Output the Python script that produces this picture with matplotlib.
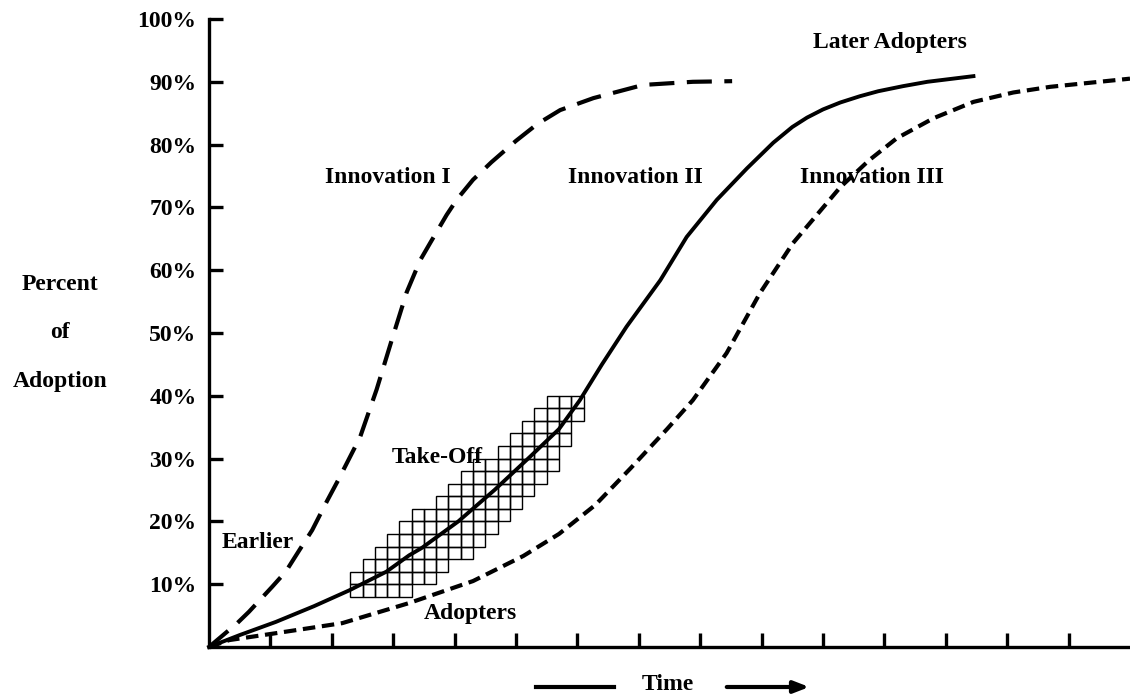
import numpy as np
import matplotlib
matplotlib.use("Agg")
import matplotlib.pyplot as plt
from matplotlib.patches import Rectangle

plt.rcParams['font.family'] = ['Liberation Serif', 'DejaVu Serif']
plt.rcParams['font.weight'] = 'bold'

# curves: time in tick units, adoption in percent
inno1_t = [0, 0.46, 0.65, 1.03, 1.25, 1.47, 1.68, 1.92, 2.1, 2.46, 2.73, 2.98, 3.22, 3.44, 3.6, 3.87,
           4.04, 4.3, 4.6, 5.0, 5.35, 5.72, 6.26, 7.07, 7.88, 8.52]
inno1_y = [0, 3.8, 5.6, 9.6, 12.0, 15.4, 18.6, 23.2, 26.5, 33.4, 41.0, 49.0, 56.5, 61.6, 64.3, 68.8,
           71.3, 74.4, 77.2, 80.6, 83.3, 85.5, 87.4, 89.5, 90.0, 90.1]

inno2_t = [0, 0.5, 1.09, 1.71, 2.28, 2.89, 3.26, 3.47, 4.06, 4.65, 5.24, 5.7, 6.04, 6.4, 6.8, 7.35,
           7.78, 8.27, 8.76, 9.19, 9.5, 9.74, 10.0, 10.28, 10.6, 10.9, 11.3, 11.7, 12.45]
inno2_y = [0, 1.9, 4.0, 6.5, 9.0, 12.0, 14.6, 15.8, 20.0, 25.0, 30.4, 34.7, 39.3, 45.0, 51.0, 58.4,
           65.3, 71.2, 76.2, 80.3, 82.8, 84.3, 85.6, 86.7, 87.7, 88.5, 89.3, 90.0, 90.9]

inno3_t = [0, 0.33, 1.09, 2.17, 3.26, 4.3, 5.12, 5.7, 6.29, 6.87, 7.46, 7.88, 8.43, 8.97, 9.51, 10.28,
           10.75, 11.2, 11.8, 12.45, 13.1, 13.7, 15.0]
inno3_y = [0, 1.1, 2.2, 3.8, 7.0, 10.5, 14.5, 18.0, 22.6, 28.5, 34.7, 39.3, 46.8, 56.3, 64.3, 73.2,
           77.5, 81.0, 84.2, 86.8, 88.3, 89.2, 90.5]

pct_ticks = [10, 20, 30, 40, 50, 60, 70, 80, 90, 100]
pct_labels = ['10%', '20%', '30%', '40%', '50%', '60%', '70%', '80%', '90%', '100%']
time_ticks = list(range(1, 15))

# take-off zone (hatched cells around innovation II)
takeoff_start = 2.3
takeoff_end = 6.0

W, H = 1130, 697
fig = plt.figure(figsize=(W / 100, H / 100), dpi=100)
ax = fig.add_axes([209 / W, 1 - 647 / H, (W - 209) / W, (647 - 19) / H])
ax.set_xlim(0, (W - 209) / 61.4)
ax.set_ylim(0, 100)

for s in ['top', 'right']:
    ax.spines[s].set_visible(False)
for s in ['left', 'bottom']:
    ax.spines[s].set_linewidth(2.4)

ax.set_yticks(pct_ticks, pct_labels)
ax.set_xticks(time_ticks, [''] * len(time_ticks))
ax.tick_params(axis='both', direction='in', length=10, width=2.4, labelsize=17, pad=9)

# hatched cells
cw, ch = 0.2, 2.0
tc = takeoff_start
while tc < takeoff_end - 1e-6:
    mid = tc + cw / 2
    yc = np.interp(mid, inno2_t, inno2_y)
    taper = max(0.0, min(1.0, (mid - takeoff_start) / 0.9, (takeoff_end - mid) / 0.5))
    hw = 1.0 + 4.2 * taper
    lo = int(np.floor((yc - hw) / ch))
    hi = int(np.ceil((yc + hw) / ch))
    for r in range(lo, hi):
        ax.add_patch(Rectangle((tc, r * ch), cw, ch, fill=False, edgecolor='black', linewidth=1.0, zorder=1))
    tc += cw

ax.plot(inno1_t, inno1_y, color='black', linewidth=3, dashes=(6, 3), clip_on=False, zorder=3)
ax.plot(inno2_t, inno2_y, color='black', linewidth=2.8, solid_joinstyle='round', clip_on=False, zorder=3)
ax.plot(inno3_t, inno3_y, color='black', linewidth=3, dashes=(3, 1.6), clip_on=False, zorder=3)

txt = dict(fontsize=17, fontweight='bold', ha='center', va='center')
ax.text(2.92, 74.7, 'Innovation I', **txt)
ax.text(6.94, 74.7, 'Innovation II', **txt)
ax.text(10.8, 74.7, 'Innovation III', **txt)
ax.text(11.09, 96.2, 'Later Adopters', clip_on=False, **txt)
ax.text(3.71, 30.1, 'Take-Off', **txt)
ax.text(0.79, 16.6, 'Earlier', **txt)
ax.text(4.25, 5.4, 'Adopters', **txt)

fig.text(60 / W, 1 - 285 / H, 'Percent', **txt)
fig.text(60 / W, 1 - 332 / H, 'of', **txt)
fig.text(60 / W, 1 - 381 / H, 'Adoption', **txt)

fig.text(668 / W, 1 - 684 / H, 'Time', **txt)
fig.add_artist(plt.Line2D([536 / W, 614 / W], [1 - 687 / H, 1 - 687 / H], color='black', linewidth=3))
ax.annotate('', xy=(812 / W, 1 - 687 / H), xytext=(724 / W, 1 - 687 / H),
            xycoords='figure fraction', textcoords='figure fraction',
            arrowprops=dict(arrowstyle='-|>,head_length=0.9,head_width=0.35', color='black', linewidth=3))

fig.savefig('out.png', dpi=100)
